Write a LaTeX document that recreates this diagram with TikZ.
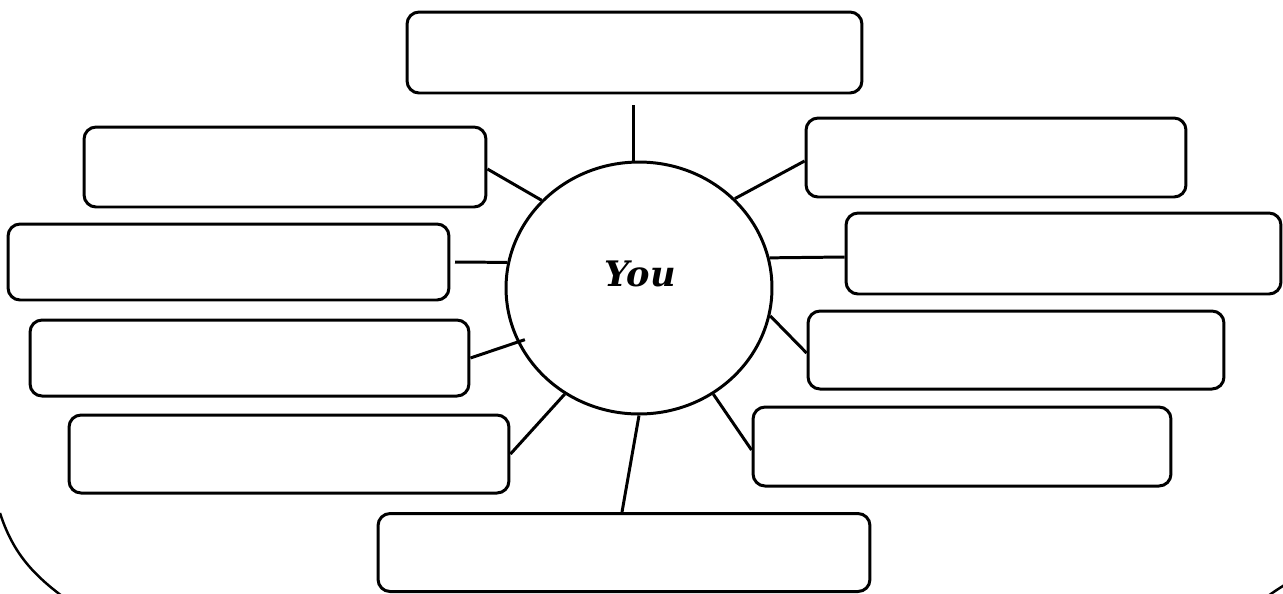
\documentclass[tikz,border=0pt]{standalone}
\usepackage{fontspec}
\usepackage{tikz}
\usetikzlibrary{shapes.geometric}
\newfontfamily\youfont{DejaVu Serif}

\begin{document}
\begin{tikzpicture}[
  x=0.02cm, y=-0.02cm,
  box/.style={draw, rounded corners=0.24cm, line width=1.7pt, inner sep=0pt},
  spoke/.style={line width=1.7pt}
]
\useasboundingbox (0,0) rectangle (1283,593);

% outer outline
\draw[line width=1.4pt] (0,513) .. controls (12,550) and (30,572) .. (62,596);
\draw[line width=1.4pt] (1268,596) .. controls (1275,591) .. (1286,584);

% centre
\node[draw, ellipse, line width=1.7pt, minimum width=5.32cm, minimum height=5.04cm] (you) at (639,288) {};
\node (youtext) at (640,274) {\youfont\bfseries\itshape\fontsize{20}{24}\selectfont You};

% boxes
\node[box, minimum width=9.10cm, minimum height=1.62cm] (top) at (634.5,52.5) {};
\node[box, minimum width=8.04cm, minimum height=1.60cm] (lt) at (285,167) {};
\node[box, minimum width=7.60cm, minimum height=1.58cm] (rt) at (996,157.5) {};
\node[box, minimum width=8.82cm, minimum height=1.52cm] (lm) at (228.5,262) {};
\node[box, minimum width=8.70cm, minimum height=1.62cm] (rm) at (1063.5,253.5) {};
\node[box, minimum width=8.78cm, minimum height=1.52cm] (ll) at (249.5,358) {};
\node[box, minimum width=8.32cm, minimum height=1.56cm] (rl) at (1016,350) {};
\node[box, minimum width=8.80cm, minimum height=1.56cm] (lb) at (289,454) {};
\node[box, minimum width=8.36cm, minimum height=1.58cm] (rb) at (962,446.5) {};
\node[box, minimum width=9.84cm, minimum height=1.56cm] (bot) at (624,552.5) {};

% spokes
\coordinate (topend) at (633,105);
\coordinate (lmend) at (455,262);
\draw[spoke] (topend) -- (you.north -| topend);
\draw[spoke] ([yshift=-0.04cm]lt.east) -- (you.138);
\draw[spoke] ([yshift=-0.07cm]rt.west) -- (you.43.4);
\draw[spoke] (lmend) -- (you.169);
\draw[spoke] ([yshift=-0.07cm]rm.west) -- (you.13);
\draw[spoke, shorten >=-0.16cm] (ll.east) -- (you.204);
\draw[spoke] ([yshift=-0.06cm]rl.west) -- (you.348.4);
\draw[spoke] (lb.east) -- (you.235.8);
\draw[spoke] ([yshift=-0.07cm]rb.west) -- (you.305.9);
\draw[spoke] ([xshift=-0.04cm]bot.north) -- (you.south);
\end{tikzpicture}
\end{document}
